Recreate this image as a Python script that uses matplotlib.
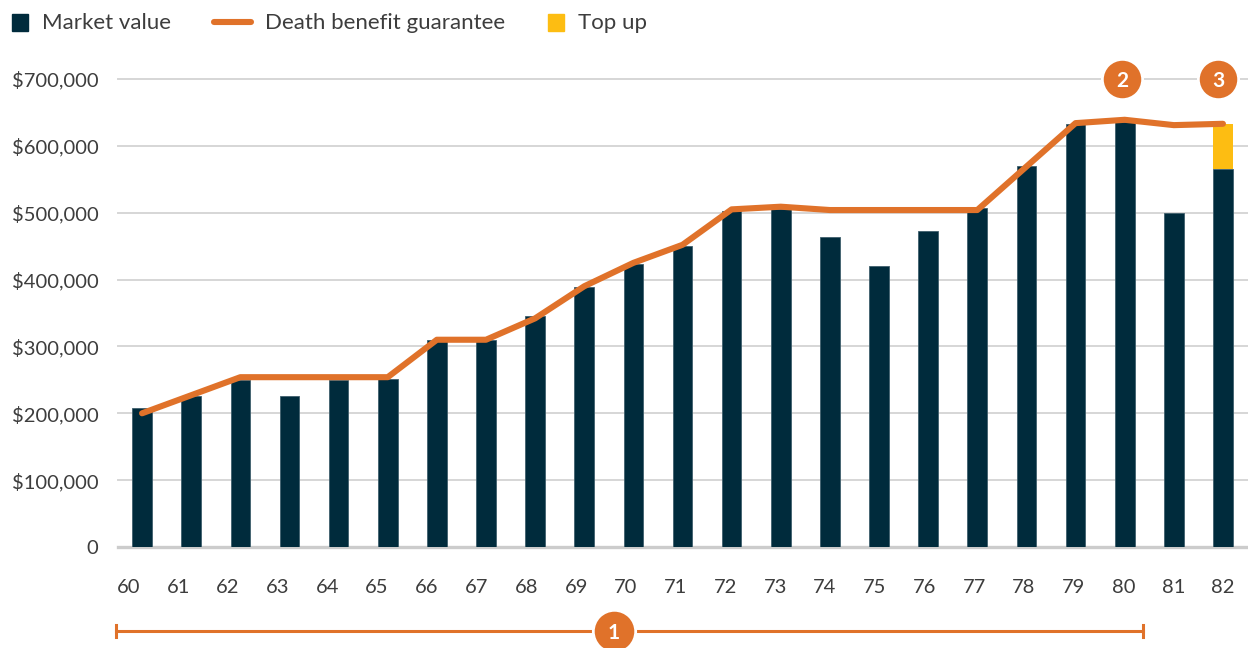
import matplotlib
matplotlib.use("Agg")
import matplotlib.pyplot as plt
import matplotlib.transforms as mtransforms
from matplotlib.lines import Line2D
from matplotlib.patches import Rectangle
import numpy as np

# ---------------- data ----------------
ages = [60, 61, 62, 63, 64, 65, 66, 67, 68, 69, 70, 71, 72, 73, 74, 75, 76, 77, 78, 79, 80, 81, 82]
market_value = [208000, 226000, 250000, 226000, 250000, 252000, 310000, 310000, 345000, 389000,
                424000, 450000, 503000, 505000, 464000, 420000, 473000, 507000, 570000, 633000,
                635000, 499000, 565000]
death_benefit = [200000, 227000, 254000, 254000, 254000, 254000, 310000, 310000, 342000, 390000,
                 425000, 452000, 505000, 509000, 504000, 504000, 504000, 504000, 569000, 634000,
                 639000, 631000, 633000]
top_up = [0, 0, 0, 0, 0, 0, 0, 0, 0, 0, 0, 0, 0, 0, 0, 0, 0, 0, 0, 0, 0, 0, 68000]
y_ticks = [0, 100000, 200000, 300000, 400000, 500000, 600000, 700000]
y_tick_labels = ["0", "$100,000", "$200,000", "$300,000", "$400,000", "$500,000", "$600,000", "$700,000"]
legend_labels = ["Market value", "Death benefit guarantee", "Top up"]
callout_numbers = ["1", "2", "3"]

# ---------------- style ----------------
NAVY = "#002b3c"
ORANGE = "#e0722a"
YELLOW = "#fdbd12"
GRID = "#d6d6d6"
TEXT = "#3d3d3d"
FONT = ["Lato", "DejaVu Sans"]
plt.rcParams["font.family"] = FONT

fig = plt.figure(figsize=(12.48, 6.48), dpi=100)
W, H = 1248, 648
ax = fig.add_axes([118 / W, 1 - 547 / H, (W - 118) / W, (547 - 79) / H])

x = np.arange(len(ages))
bar_w = 0.40

ax.bar(x, market_value, width=bar_w, color=NAVY, edgecolor="#3f5f6c", linewidth=0.6, zorder=3)
ax.bar(x, top_up, width=bar_w, bottom=market_value, color=YELLOW, linewidth=0, zorder=3)
ax.plot(x, death_benefit, color=ORANGE, linewidth=4.4, solid_capstyle="round",
        solid_joinstyle="round", zorder=4)

ax.set_xlim(-0.49, len(ages) - 1 + 0.51)
ax.set_ylim(0, 700000)

# grid lines
for yt in y_ticks[1:]:
    ax.axhline(yt, color=GRID, linewidth=1.4, zorder=1, clip_on=False)
ax.axhline(0, color="#cccccc", linewidth=2.4, zorder=2, clip_on=False)

for s in ax.spines.values():
    s.set_visible(False)

ax.set_yticks(y_ticks)
ax.set_yticklabels(y_tick_labels)
n = len(ages)
tick_pos = [xi - 0.28 * (n - 1 - i) / (n - 1) for i, xi in enumerate(x)]
ax.set_xticks(tick_pos)
ax.set_xticklabels([str(a) for a in ages])
ax.tick_params(axis="y", length=0, pad=14, labelsize=14.5, labelcolor=TEXT)
ax.tick_params(axis="x", length=0, pad=23, labelsize=14.5, labelcolor=TEXT)

# numbered callouts 2 and 3
for xi, num in [(x[ages.index(80)] - 0.05, callout_numbers[1]), (x[ages.index(82)] - 0.1, callout_numbers[2])]:
    ax.plot([xi], [700000], marker="o", markersize=29, color=ORANGE, markeredgecolor="white",
            markeredgewidth=2.0, clip_on=False, zorder=6)
    ax.text(xi, 700000, num, color="white", fontsize=15, fontweight="bold", ha="center",
            va="center_baseline", zorder=7, clip_on=False)

# bracket with callout 1
trans = mtransforms.blended_transform_factory(ax.transData, ax.transAxes)
yb = (547 - 630.7) / 468
x_left, x_right, x_mid = -0.54, 20.37, 9.6
ax.plot([x_left, x_right], [yb, yb], color=ORANGE, linewidth=2.2, transform=trans, clip_on=False, zorder=5)
for xe in (x_left, x_right):
    ax.plot([xe, xe], [yb - 0.013, yb + 0.013], color=ORANGE, linewidth=2.2, transform=trans,
            clip_on=False, zorder=5)
ax.plot([x_mid], [yb], marker="o", markersize=30.5, color=ORANGE, markeredgecolor="white",
        markeredgewidth=2.0, transform=trans, clip_on=False, zorder=6)
ax.text(x_mid, yb, callout_numbers[0], color="white", fontsize=15, fontweight="bold", ha="center",
        va="center_baseline", transform=trans, zorder=7, clip_on=False)

# legend (drawn in figure pixel space)
def fx(px):
    return px / W

def fy(py):
    return 1 - py / H

ly = 23
fig.patches.append(Rectangle((fx(12), fy(31)), 16 / W, 17 / H, color=NAVY, transform=fig.transFigure))
fig.text(fx(42), fy(ly), legend_labels[0], fontsize=16, color=TEXT, va="center", ha="left")
fig.lines.append(Line2D([fx(214), fx(251)], [fy(22), fy(22)], color=ORANGE, linewidth=4.4,
                        solid_capstyle="round", transform=fig.transFigure))
fig.text(fx(265), fy(ly), legend_labels[1], fontsize=16, color=TEXT, va="center", ha="left")
fig.patches.append(Rectangle((fx(548), fy(31)), 16 / W, 17 / H, color=YELLOW, transform=fig.transFigure))
fig.text(fx(578), fy(ly), legend_labels[2], fontsize=16, color=TEXT, va="center", ha="left")

fig.savefig("out.png", dpi=100, facecolor="white")
